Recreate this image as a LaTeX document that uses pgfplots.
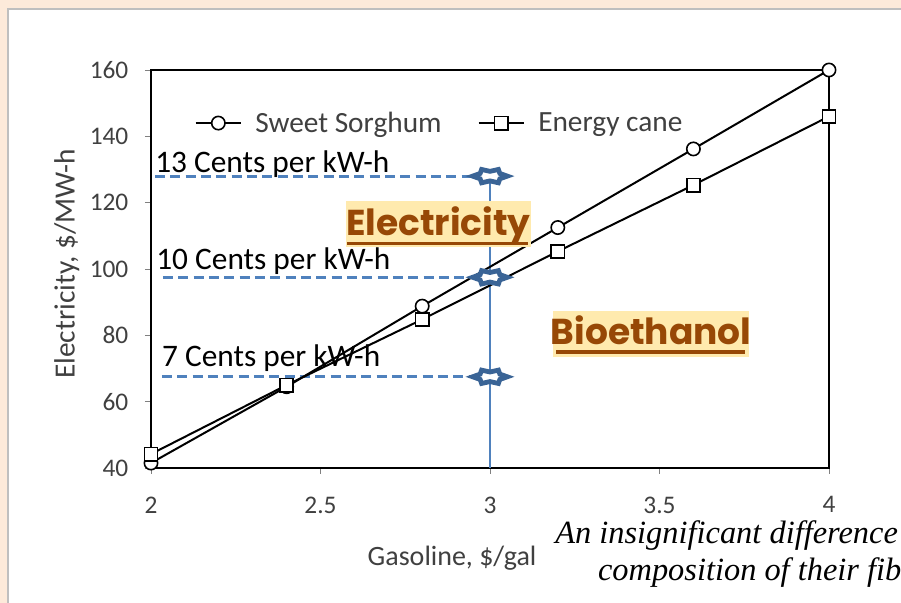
\documentclass[border=0pt]{standalone}
\usepackage{fontspec}
\setmainfont{Carlito}
\newfontfamily\tnr{Liberation Serif}
\newfontfamily\comic{Poppins}
\usepackage{pgfplots}
\pgfplotsset{compat=1.18}
\definecolor{bgpink}{HTML}{FDEADA}
\definecolor{panelline}{HTML}{BFBFBF}
\definecolor{ofblue}{HTML}{4F81BD}
\definecolor{stardark}{HTML}{3A6496}
\definecolor{txtgray}{HTML}{404040}
\definecolor{hlyellow}{HTML}{FFEAAE}
\definecolor{brownt}{HTML}{974806}

\pgfdeclareplotmark{flatstar}{%
  \pgfsetcornersarced{\pgfpoint{1.5pt}{1.5pt}}%
  \pgfpathmoveto{\pgfpoint{13pt}{0pt}}%
  \pgfpathlineto{\pgfpoint{7.4pt}{2.0pt}}%
  \pgfpathlineto{\pgfpoint{6.3pt}{5.0pt}}%
  \pgfpathlineto{\pgfpoint{0pt}{3.6pt}}%
  \pgfpathlineto{\pgfpoint{-6.3pt}{5.0pt}}%
  \pgfpathlineto{\pgfpoint{-7.4pt}{2.0pt}}%
  \pgfpathlineto{\pgfpoint{-13pt}{0pt}}%
  \pgfpathlineto{\pgfpoint{-7.4pt}{-2.0pt}}%
  \pgfpathlineto{\pgfpoint{-6.3pt}{-5.0pt}}%
  \pgfpathlineto{\pgfpoint{0pt}{-3.6pt}}%
  \pgfpathlineto{\pgfpoint{6.3pt}{-5.0pt}}%
  \pgfpathlineto{\pgfpoint{7.4pt}{-2.0pt}}%
  \pgfpathclose
  \pgfusepathqfillstroke
}

\begin{document}
\begin{tikzpicture}
% canvas 901x603 px, 1px = 0.75pt
\useasboundingbox (0,0) rectangle (675.75pt,452.25pt);
\clip (0,0) rectangle (675.75pt,452.25pt);
\fill[bgpink] (0,0) rectangle (675.75pt,452.25pt);
\fill[white] (6pt,-2pt) rectangle (680pt,445.5pt);
\draw[panelline, line width=0.8pt] (6pt,-2pt) -- (6pt,445.5pt) -- (680pt,445.5pt);
\begin{axis}[
  at={(113.25pt,101.25pt)}, anchor=south west,
  scale only axis, width=508.5pt, height=298.5pt,
  xmin=2, xmax=4, ymin=40, ymax=160,
  xtick={2,2.5,3,3.5,4}, xticklabels={2,2.5,3,3.5,4},
  ytick={40,60,80,100,120,140,160},
  tick align=outside, major tick length=4.5pt,
  tick style={gray, line width=0.6pt},
  xtick pos=bottom, ytick pos=left,
  axis line style={line width=2.2pt},
  ticklabel style={font=\fontsize{19}{19}\selectfont, text=txtgray},
  /pgf/number format/assume math mode=true,
  xticklabel style={yshift=-13.5pt},
  yticklabel style={xshift=-9pt},
  clip=false,
  legend style={draw=none, fill=none, at={(axis cs:2.128,144)}, anchor=west,
    font=\fontsize{22}{22}\selectfont, text=txtgray, inner sep=0pt,
    /tikz/every even column/.append style={column sep=25pt},
    /tikz/every odd column/.append style={column sep=8pt}},
  legend columns=2, legend cell align=left,
  legend image code/.code={\draw[#1, mark repeat=2, mark phase=2] plot coordinates {(0pt,0pt) (17pt,0pt) (34pt,0pt)};},
]
% reference lines
\addplot[ofblue, line width=1.2pt, forget plot] coordinates {(3,128) (3,40)};
\addplot[ofblue, line width=2.2pt, dash pattern=on 7.5pt off 4pt, forget plot] coordinates {(2.012,128) (2.95,128)};
\addplot[ofblue, line width=2.2pt, dash pattern=on 7.5pt off 4pt, forget plot] coordinates {(2.035,97.5) (2.95,97.5)};
\addplot[ofblue, line width=2.2pt, dash pattern=on 7.5pt off 4pt, forget plot] coordinates {(2.032,67.5) (2.95,67.5)};
% data
\addplot[black, line width=1.5pt, mark=*, mark size=5pt,
  mark options={fill=white, draw=black, line width=1.2pt}]
  coordinates {(2,41.5) (2.4,64.5) (2.8,88.8) (3.2,112.5) (3.6,136.2) (4,160)};
\addlegendentry{Sweet Sorghum}
\addplot[black, line width=1.5pt, mark=square*, mark size=5pt,
  mark options={fill=white, draw=black, line width=1.2pt}]
  coordinates {(2,44.2) (2.4,65) (2.8,84.8) (3.2,105.3) (3.6,125.3) (4,146)};
\addlegendentry{Energy cane}
% star markers
\addplot[only marks, mark=flatstar, mark options={fill=white, draw=stardark, line width=3.6pt}, forget plot]
  coordinates {(3,128) (3,97.5) (3,67.5)};
% labels
\node[anchor=base west, inner sep=0, font=\fontsize{23.5}{23.5}\selectfont] at (axis cs:2.012,129.0) {13 Cents per kW-h};
\node[anchor=base west, inner sep=0, font=\fontsize{23.5}{23.5}\selectfont] at (axis cs:2.015,99.8) {10 Cents per kW-h};
\node[anchor=base west, inner sep=0, font=\fontsize{23.5}{23.5}\selectfont] at (axis cs:2.032,70.6) {7 Cents per kW-h};
% highlighted words
\fill[hlyellow] (axis cs:2.575,106.6) rectangle (axis cs:3.121,120.5);
\node[anchor=base, inner sep=0, text=brownt, font=\comic\bfseries\fontsize{27}{27}\selectfont] at (axis cs:2.848,110.0) {Electricity};
\draw[brownt, line width=2.4pt] (axis cs:2.578,107.6) -- (axis cs:3.112,107.6);
\fill[hlyellow] (axis cs:3.186,73.5) rectangle (axis cs:3.764,87.3);
\node[anchor=base, inner sep=0, text=brownt, font=\comic\bfseries\fontsize{27}{27}\selectfont] at (axis cs:3.475,77.2) {Bioethanol};
\draw[brownt, line width=2.4pt] (axis cs:3.195,75.0) -- (axis cs:3.752,75.0);
% axis labels
\node[rotate=90, text=txtgray, font=\fontsize{22}{22}\selectfont] at (axis cs:1.752,101.5) {Electricity, \$/MW-h};
\node[text=txtgray, font=\fontsize{21}{21}\selectfont] at (axis cs:2.888,12.9) {Gasoline, \$/gal};
% caption
\node[anchor=base west, inner sep=0, font=\tnr\itshape\fontsize{24.3}{24.3}\selectfont] at (axis cs:3.192,17.2) {An insignificant difference};
\node[anchor=base west, inner sep=0, font=\tnr\itshape\fontsize{24.3}{24.3}\selectfont] at (axis cs:3.318,6.2) {composition of their fib};
\end{axis}
\end{tikzpicture}
\end{document}
